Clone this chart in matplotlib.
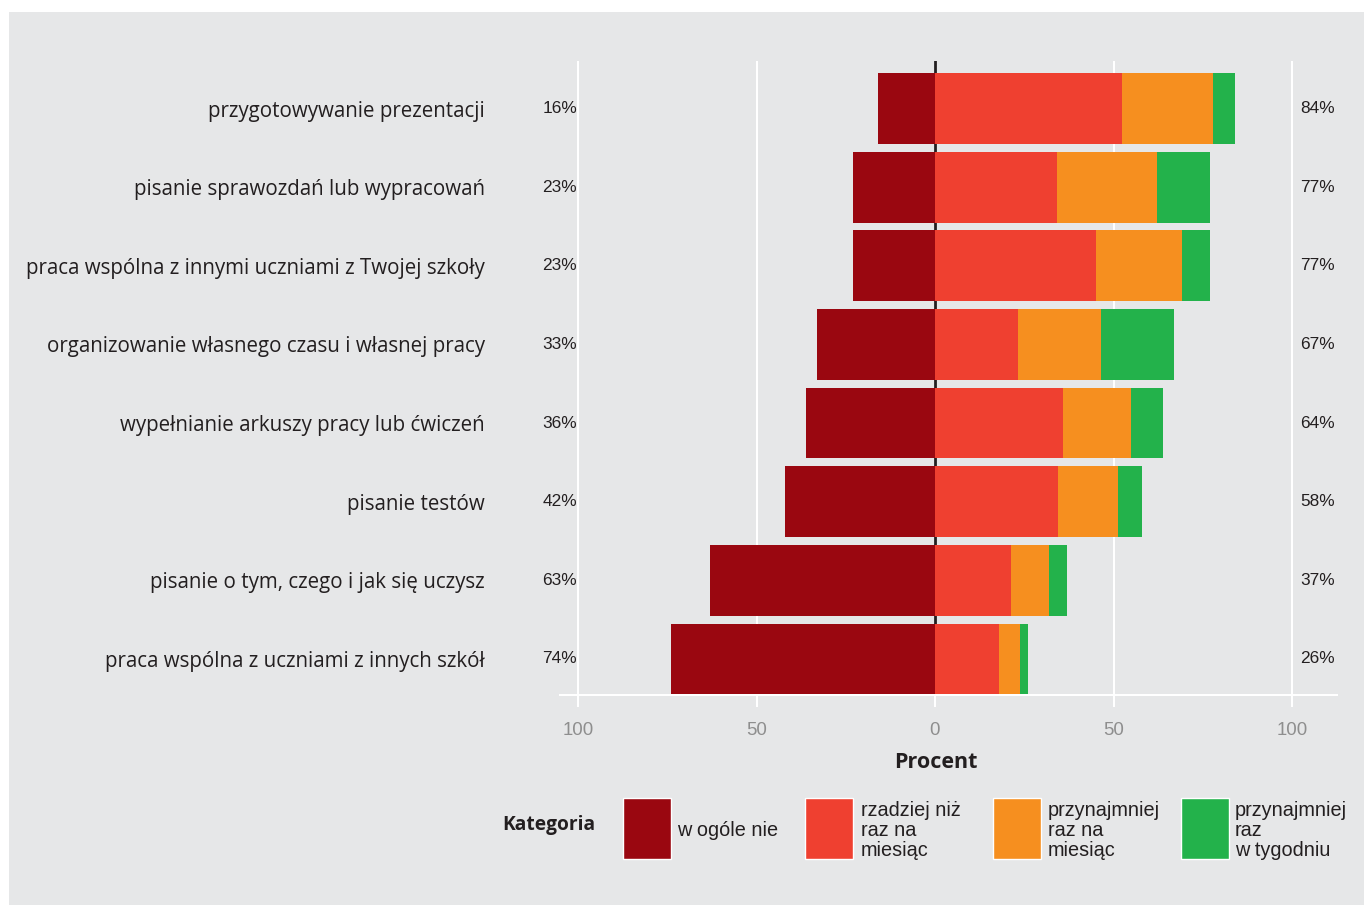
import matplotlib
matplotlib.use("Agg")
import matplotlib.pyplot as plt
from matplotlib.patches import Rectangle

# Survey items (top to bottom)
tasks = [
    "przygotowywanie prezentacji",
    "pisanie sprawozdań lub wypracowań",
    "praca wspólna z innymi uczniami z Twojej szkoły",
    "organizowanie własnego czasu i własnej pracy",
    "wypełnianie arkuszy pracy lub ćwiczeń",
    "pisanie testów",
    "pisanie o tym, czego i jak się uczysz",
    "praca wspólna z uczniami z innych szkół",
]

# Percent of students in each answer category
never = [16, 23, 23, 33, 36, 42, 63, 74]
less_than_monthly = [52.4, 34.2, 45.1, 23.2, 35.9, 34.5, 21.3, 17.9]
monthly = [25.5, 28.0, 24.1, 23.3, 19.0, 16.8, 10.6, 5.9]
weekly = [6.1, 14.8, 7.8, 20.5, 9.1, 6.7, 5.1, 2.2]

categories = [
    "w ogóle nie",
    "rzadziej niż\nraz na\nmiesiąc",
    "przynajmniej\nraz na\nmiesiąc",
    "przynajmniej\nraz\nw tygodniu",
]
colors = ["#9A0710", "#EF4030", "#F68F1F", "#23B24B"]

xticks = [-100, -50, 0, 50, 100]
xticklabels = ["100", "50", "0", "50", "100"]

BG = "#E6E7E8"
INK = "#231F20"
W, H = 1364, 905

fig = plt.figure(figsize=(W / 100, H / 100), dpi=100, facecolor="white")
fig.patches.append(Rectangle((9 / W, 0), 1, 1 - 12 / H, transform=fig.transFigure,
                             facecolor=BG, edgecolor="none", zorder=-10))


def fx(px):
    return px / W


def fy(py):
    return 1 - py / H


ax = fig.add_axes([fx(560), fy(695), (1337 - 560) / W, (695 - 60.7) / H])
ax.set_facecolor(BG)

ypos = list(range(len(tasks)))
bar_h = 0.9

# negative side: "never"
ax.barh(ypos, [-v for v in never], height=bar_h, color=colors[0], zorder=3)

# positive side: stacked frequencies
left = [0.0] * len(tasks)
for vals, col in zip([less_than_monthly, monthly, weekly], colors[1:]):
    ax.barh(ypos, vals, left=left, height=bar_h, color=col, zorder=3)
    left = [l + v for l, v in zip(left, vals)]

# percent totals on both sides
for y, n, tot in zip(ypos, never, left):
    ax.text(-100.3, y, f"{round(n)}%", ha="right", va="center", fontsize=12.4,
            family="Liberation Sans", color=INK, clip_on=False)
    ax.text(102.2, y, f"{round(tot)}%", ha="left", va="center", fontsize=12.4,
            family="Liberation Sans", color=INK, clip_on=False)

ax.set_xlim((560 - 935) / 3.57, (1337 - 935) / 3.57)
ax.set_ylim(7.458, -0.608)

ax.set_xticks(xticks)
ax.set_xticklabels(xticklabels, family="Liberation Sans", fontsize=13.4, color="#8E8E8E")
ax.tick_params(axis="x", length=8.6, width=1.44, color="white", pad=10.5)
ax.xaxis.get_major_ticks()[2].tick1line.set_color(INK)

ax.set_yticks(ypos)
ax.set_yticklabels(tasks, family="Open Sans", fontsize=14.8, color=INK)
ax.tick_params(axis="y", length=0, pad=54)

ax.set_axisbelow(True)
ax.xaxis.grid(True, color="white", linewidth=1.44)
ax.yaxis.grid(False)
ax.axvline(0, color=INK, linewidth=2.0, zorder=1.5)

for s in ["top", "left", "right"]:
    ax.spines[s].set_visible(False)
ax.spines["bottom"].set_color("white")
ax.spines["bottom"].set_linewidth(1.44)
ax.spines["bottom"].set_zorder(4)

fig.text(fx(936), fy(762), "Procent", ha="center", va="center", fontsize=15.5,
         fontweight="bold", family="Open Sans", color=INK)

# legend
fig.text(fx(502), fy(825), "Kategoria", ha="left", va="center", fontsize=13.8,
         fontweight="bold", family="Open Sans", color=INK)
box_x = [623, 805, 993, 1181]
text_x = [677, 861, 1048, 1235]
for bx, tx, lab, col in zip(box_x, text_x, categories, colors):
    fig.patches.append(Rectangle((fx(bx), fy(859)), 48 / W, 61 / H, transform=fig.transFigure,
                                 facecolor=col, edgecolor="white", linewidth=1.0))
    fig.text(fx(tx), fy(830.5), lab, ha="left", va="center", fontsize=14.3,
             family="Liberation Sans", color=INK, linespacing=1.05)

fig.savefig("out.png", dpi=100, facecolor="white")
